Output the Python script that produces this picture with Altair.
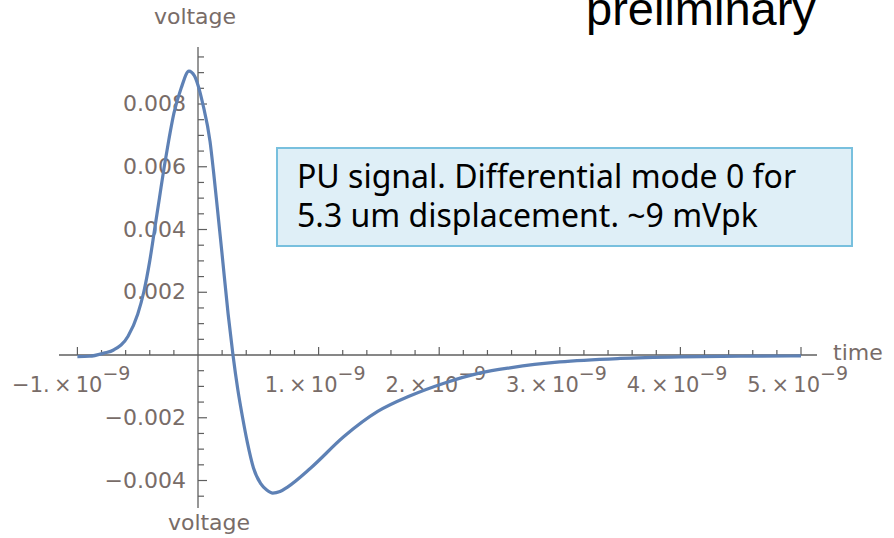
import altair as alt
import pandas as pd

# Pick-up pulse: time in ns, voltage in V
time_ns = [-1.00, -0.90, -0.78, -0.70, -0.58, -0.50, -0.45, -0.40, -0.36, -0.32,
           -0.28, -0.24, -0.20, -0.14, -0.075, -0.03, 0.00, 0.04, 0.10, 0.13,
           0.16, 0.20, 0.25, 0.29, 0.33, 0.37, 0.41, 0.46, 0.52, 0.57,
           0.62, 0.68, 0.745, 0.935, 1.21, 1.49, 1.76, 2.04, 2.34, 2.60,
           3.00, 3.50, 4.00, 4.50, 5.00]
voltage = [-0.00005, -0.00004, 0.00006, 0.00016, 0.0006, 0.0013, 0.0020, 0.0030, 0.0040, 0.0050,
           0.0060, 0.0069, 0.0077, 0.0085, 0.00905, 0.0089, 0.0086, 0.0080, 0.0068, 0.0058,
           0.0047, 0.0032, 0.0013, 0.0, -0.0011, -0.0020, -0.0028, -0.0036, -0.0041, -0.0043,
           -0.0044, -0.00435, -0.0042, -0.0036, -0.0026, -0.0018, -0.0013, -0.0009, -0.00057, -0.0004,
           -0.00022, -0.00011, -0.00006, -0.00004, -0.00003]

# Axis ticks and labels
x_major = [-1, 1, 2, 3, 4, 5]
x_mantissa = ["\u22121.", "1.", "2.", "3.", "4.", "5."]
x_minor = [round(-1.0 + 0.2 * i, 1) for i in range(31)]
y_major = [0.008, 0.006, 0.004, 0.002, -0.002, -0.004]
y_labels = ["0.008", "0.006", "0.004", "0.002", "\u22120.002", "\u22120.004"]
y_minor = [round(-0.0045 + 0.0005 * i, 4) for i in range(29)]

note_lines = ["PU signal. Differential mode 0 for", "5.3 um displacement. ~9 mVpk"]

# Layout
W, H = 758, 461
PAD = {"left": 59, "top": 47, "right": 77, "bottom": 30}
T_DOMAIN = [-1.1526, 5.1327]
V_DOMAIN = [-0.004876, 0.009817]

AXIS_COLOR = "#5f5f5f"
LABEL_COLOR = "#786c68"
LINE_COLOR = "#5e81b5"
LABEL_FONT = "DejaVu Sans"

xs = alt.Scale(domain=T_DOMAIN, nice=False, zero=False)
ys = alt.Scale(domain=V_DOMAIN, nice=False, zero=False)


def X(field):
    return alt.X(field, type="quantitative", scale=xs, axis=None)


def Y(field):
    return alt.Y(field, type="quantitative", scale=ys, axis=None)


curve = alt.Chart(pd.DataFrame({"t": time_ns, "v": voltage})).mark_line(
    color=LINE_COLOR, strokeWidth=3.2, interpolate="monotone"
).encode(x=X("t"), y=Y("v"))

origin = pd.DataFrame({"zero": [0.0]})
x_axis = alt.Chart(origin).mark_rule(color=AXIS_COLOR, strokeWidth=1.3).encode(
    x=alt.value(0), x2=alt.value(W), y=Y("zero")
)
y_axis = alt.Chart(origin).mark_rule(color=AXIS_COLOR, strokeWidth=1.3).encode(
    x=X("zero"), y=alt.value(0), y2=alt.value(H)
)

minor_x = [t for t in x_minor if t != 0 and t not in x_major]
minor_y = [v for v in y_minor if abs(v) > 1e-9 and all(abs(v - m) > 1e-9 for m in y_major)]

x_minor_ticks = alt.Chart(pd.DataFrame({"t": minor_x, "zero": 0.0})).mark_rule(
    color=AXIS_COLOR, strokeWidth=1.2, y2Offset=-5
).encode(x=X("t"), y=Y("zero"), y2=alt.Y2("zero"))
x_major_ticks = alt.Chart(pd.DataFrame({"t": x_major, "zero": 0.0})).mark_rule(
    color=AXIS_COLOR, strokeWidth=1.2, y2Offset=-8
).encode(x=X("t"), y=Y("zero"), y2=alt.Y2("zero"))
y_minor_ticks = alt.Chart(pd.DataFrame({"v": minor_y, "zero": 0.0})).mark_rule(
    color=AXIS_COLOR, strokeWidth=1.2, x2Offset=6
).encode(x=X("zero"), x2=alt.X2("zero"), y=Y("v"))
y_major_ticks = alt.Chart(pd.DataFrame({"v": y_major, "zero": 0.0})).mark_rule(
    color=AXIS_COLOR, strokeWidth=1.2, x2Offset=9
).encode(x=X("zero"), x2=alt.X2("zero"), y=Y("v"))

y_text = alt.Chart(pd.DataFrame({"v": y_major, "label": y_labels, "zero": 0.0})).mark_text(
    align="right", baseline="middle", dx=-12, font=LABEL_FONT, fontSize=22, color=LABEL_COLOR
).encode(x=X("zero"), y=Y("v"), text="label:N")

x_lab = pd.DataFrame({
    "t": x_major,
    "label": [m + "\u2009\u00d7\u200910" for m in x_mantissa],
    "exp": "\u22129",
    "zero": 0.0,
})


def x_label_layers(df, shift):
    base = alt.Chart(df).mark_text(
        align="right", baseline="alphabetic", dx=shift, dy=37,
        font=LABEL_FONT, fontSize=21, color=LABEL_COLOR
    ).encode(x=X("t"), y=Y("zero"), text="label:N")
    sup = alt.Chart(df).mark_text(
        align="left", baseline="alphabetic", dx=shift, dy=25,
        font=LABEL_FONT, fontSize=19, color=LABEL_COLOR
    ).encode(x=X("t"), y=Y("zero"), text="exp:N")
    return [base, sup]


x_text = x_label_layers(x_lab[x_lab.t > 0], 19) + x_label_layers(x_lab[x_lab.t < 0], 25)


def caption(text, x, y, align="center", size=22, font=LABEL_FONT, color=LABEL_COLOR):
    return alt.Chart(origin).mark_text(
        align=align, baseline="alphabetic", font=font, fontSize=size, color=color
    ).encode(x=alt.value(x), y=alt.value(y), text=alt.value(text))


titles = [
    caption("voltage", 136, -23),
    caption("voltage", 150, 483),
    caption("time", 774, 313, align="left"),
    caption("preliminary", 527, -22, align="left", size=47, font="Liberation Sans", color="#000000"),
]

note_box = alt.Chart(origin).mark_rect(
    fill="#dfeff7", stroke="#78c0de", strokeWidth=2
).encode(x=alt.value(218), x2=alt.value(793), y=alt.value(101), y2=alt.value(199))

note_text = [
    caption(note_lines[0], 238, 141, align="left", size=32, font="Noto Sans", color="#000000"),
    caption(note_lines[1], 238, 180, align="left", size=32, font="Noto Sans", color="#000000"),
]

chart = alt.layer(
    x_axis, y_axis, x_minor_ticks, x_major_ticks, y_minor_ticks, y_major_ticks,
    y_text, *x_text, curve, note_box, *note_text, *titles
).properties(
    width=W, height=H, padding=PAD, autosize=alt.AutoSizeParams(type="none"),
    background="white"
).configure_view(strokeWidth=0)

chart.save("out.html", embed_options={"renderer": "svg", "actions": False})
